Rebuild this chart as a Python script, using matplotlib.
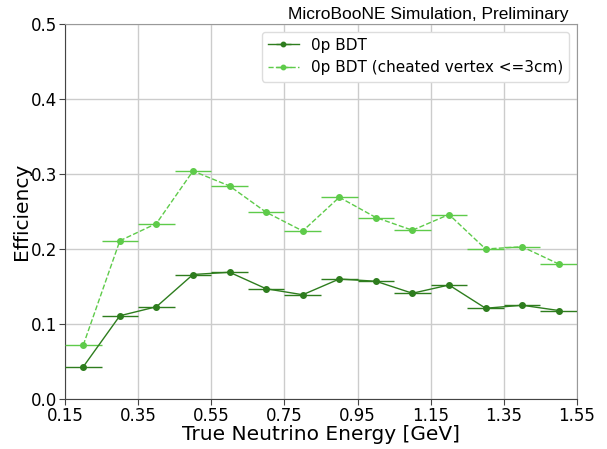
import matplotlib
matplotlib.use("Agg")
import matplotlib.pyplot as plt
import numpy as np

energy = [0.2, 0.3, 0.4, 0.5, 0.6, 0.7, 0.8, 0.9, 1.0, 1.1, 1.2, 1.3, 1.4, 1.5]
bin_half_width = [0.05] * 14
eff_bdt = [0.043, 0.111, 0.123, 0.166, 0.169, 0.147, 0.139, 0.160, 0.157, 0.141, 0.152, 0.121, 0.125, 0.118]
eff_cheated = [0.072, 0.211, 0.234, 0.304, 0.284, 0.249, 0.224, 0.269, 0.242, 0.225, 0.246, 0.200, 0.203, 0.180]
labels = ["0p BDT", "0p BDT (cheated vertex <=3cm)"]
xticks = [0.15, 0.35, 0.55, 0.75, 0.95, 1.15, 1.35, 1.55]
yticks = [0.0, 0.1, 0.2, 0.3, 0.4, 0.5]

fig = plt.figure(figsize=(6.07, 4.49), dpi=100)
ax = fig.add_axes([65/607, 50/449, 512/607, 375/449])

c1 = "#2e7d1e"
c2 = "#5ecb4a"
ax.errorbar(energy, eff_bdt, xerr=bin_half_width, color=c1, marker="o", ms=4,
            lw=1.0, elinewidth=1.0, ls="-", label=labels[0], zorder=3)
ax.errorbar(energy, eff_cheated, xerr=bin_half_width, color=c2, marker="o", ms=4,
            lw=1.0, elinewidth=1.0, ls="--", label=labels[1], zorder=3)

ax.set_xlim(0.15, 1.55)
ax.set_ylim(0, 0.5)
ax.set_xticks(xticks)
ax.set_xticklabels([f"{t:.2f}" for t in xticks])
ax.set_yticks(yticks)
ax.set_yticklabels([f"{t:.1f}" for t in yticks])
ax.tick_params(labelsize=12, length=4, pad=1.5, color="#444444")
ax.grid(True, color="#cccccc", lw=1.0)
ax.set_axisbelow(True)
for s in ["left", "bottom"]:
    ax.spines[s].set_color("#444444")
for s in ["top", "right"]:
    ax.spines[s].set_color("#999999")

ax.set_xlabel("True Neutrino Energy [GeV]", fontsize=14.5, labelpad=0)
ax.set_ylabel("Efficiency", fontsize=14.5, labelpad=0)
fig.text(568/607, 1 - 19/449, "MicroBooNE Simulation, Preliminary", ha="right",
         va="baseline", fontsize=12.5, family="Liberation Sans")

ax.legend(loc="upper right", fontsize=11, markerscale=0.8,
          framealpha=1.0, edgecolor="#dddddd")

fig.savefig("out.png", dpi=100)
